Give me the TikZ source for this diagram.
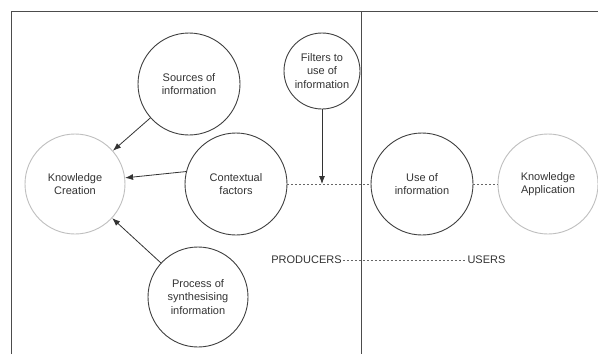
\documentclass[tikz,border=0pt]{standalone}
\usepackage{fontspec}
\setmainfont{Liberation Sans}
\usetikzlibrary{arrows.meta}
\begin{document}
\begin{tikzpicture}[x=1pt,y=-1pt,
  circ/.style={circle,draw=black!75,line width=0.9pt,inner sep=0pt,align=center,font=\fontsize{11}{13.5}\selectfont,text=black!80},
  pale/.style={circ,draw=black!25},
  lbl/.style={inner sep=1pt,font=\fontsize{11}{13.5}\selectfont,text=black!80},
  arr/.style={draw=black!80,line width=0.8pt,-{Latex[length=8pt,width=6pt]}},
  dotline/.style={draw=black!60,line width=1pt,dash pattern=on 2pt off 2pt},
  frameline/.style={draw=black!70,line width=1pt}]
\useasboundingbox (0,0) rectangle (598,354);
\fill[white] (0,0) rectangle (598,354);
% frame and divider
\coordinate (tl) at (11.5,11.5);
\coordinate (tr) at (598,11.5);
\coordinate (bl) at (11.5,354);
\coordinate (dt) at (361,11.5);
\coordinate (db) at (361,354);
\draw[frameline] (bl) -- (tl) -- (tr);
\draw[frameline] (dt) -- (db);
% nodes
\node[pale,minimum size=100pt] (kc) at (75,184) {Knowledge\\Creation};
\node[circ,minimum size=102pt] (src) at (189,84) {Sources of\\information};
\node[circ,minimum size=102pt] (ctx) at (236,184) {Contextual\\factors};
\node[circ,minimum size=76pt] (flt) at (322,71) {Filters to\\use of\\information};
\node[circ,minimum size=102pt] (use) at (422,184) {Use of\\information};
\node[pale,minimum size=100pt] (ka) at (548,184) {Knowledge\\Application};
\node[circ,minimum size=100pt] (proc) at (198,297) {Process of\\synthesising\\information};
\node[lbl] (prod) at (306.5,260) {PRODUCERS};
\node[lbl] (usr) at (486.5,260) {USERS};
\coordinate (meet) at (322,184);
% connectors
\draw[dotline] (ctx.east) -- (use.west);
\draw[dotline] (use.east) -- (ka.west);
\draw[dotline] (prod.east) -- (usr.west);
\draw[arr] (src) -- (kc);
\draw[arr] (ctx.166) -- (kc.7);
\draw[arr] (proc) -- (kc);
\draw[arr] (flt.south) -- (meet);
\end{tikzpicture}
\end{document}
